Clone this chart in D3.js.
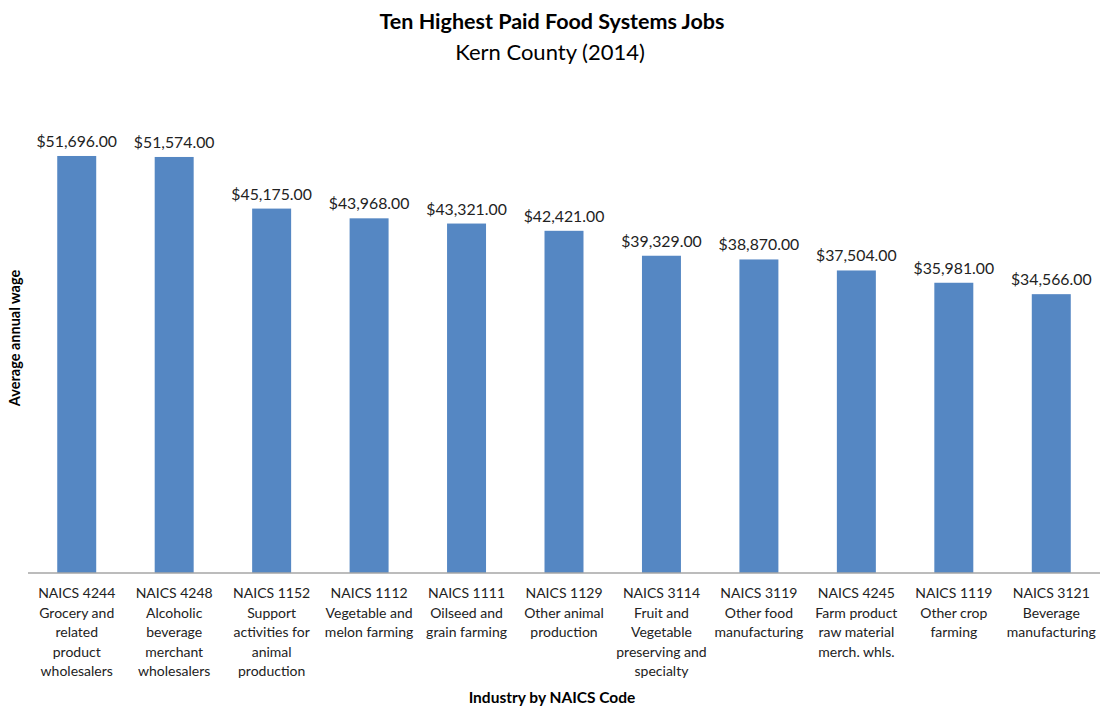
<!DOCTYPE html>
<html><head><meta charset="utf-8">
<script src="https://cdn.jsdelivr.net/npm/d3@7"></script>
<style>body{margin:0;background:#fff;} svg{display:block;font-family:Lato, "Open Sans", sans-serif;}</style>
</head><body>
<svg id="chart" width="1100" height="709"></svg>
<script>
const codes = ["NAICS 4244","NAICS 4248","NAICS 1152","NAICS 1112","NAICS 1111","NAICS 1129","NAICS 3114","NAICS 3119","NAICS 4245","NAICS 1119","NAICS 3121"];
const descriptions = [
  ["Grocery and","related","product","wholesalers"],
  ["Alcoholic","beverage","merchant","wholesalers"],
  ["Support","activities for","animal","production"],
  ["Vegetable and","melon farming"],
  ["Oilseed and","grain farming"],
  ["Other animal","production"],
  ["Fruit and","Vegetable","preserving and","specialty"],
  ["Other food","manufacturing"],
  ["Farm product","raw material","merch. whls."],
  ["Other crop","farming"],
  ["Beverage","manufacturing"]
];
const wages = [51696, 51574, 45175, 43968, 43321, 42421, 39329, 38870, 37504, 35981, 34566];

const svg = d3.select("#chart");
const left = 28, right = 1100, baseY = 573, topY = 89;
const x = d3.scaleBand().domain(codes).range([left, right]).paddingInner(0.6).paddingOuter(0.3);
const y = d3.scaleLinear().domain([0, 60000]).range([baseY, topY]);
const fmt = d3.format("$,.2f");

svg.append("text").attr("x", 552).attr("y", 29).attr("text-anchor","middle")
  .attr("font-size", 21.5).attr("font-weight","bold").attr("fill","#000").text("Ten Highest Paid Food Systems Jobs");
svg.append("text").attr("x", 550).attr("y", 60).attr("text-anchor","middle")
  .attr("font-size", 22).attr("fill","#000").text("Kern County (2014)");

svg.selectAll("rect.bar").data(wages).join("rect").attr("class","bar")
  .attr("x",(d,i)=>x(codes[i])).attr("width",x.bandwidth())
  .attr("y",d=>y(d)).attr("height",d=>baseY-y(d)).attr("fill","#5587c3");

svg.selectAll("text.val").data(wages).join("text").attr("class","val")
  .attr("x",(d,i)=>x(codes[i])+x.bandwidth()/2).attr("y",d=>y(d)-9)
  .attr("text-anchor","middle").attr("font-size",15.8).attr("fill","#222").text(d=>fmt(d));

const xAxis = svg.append("g").attr("transform",`translate(0,${baseY})`)
  .call(d3.axisBottom(x).tickSize(0).tickFormat(""));
xAxis.select(".domain").attr("stroke","#a6a6a6").attr("stroke-width",1.5).attr("d",`M${left},0H${right}`);

const lab = svg.selectAll("text.cat").data(codes).join("text").attr("class","cat")
  .attr("text-anchor","middle").attr("font-size",14).attr("fill","#222")
  .attr("transform",d=>`translate(${x(d)+x.bandwidth()/2},${baseY+25})`);
lab.each(function(d,i){
  const t = d3.select(this);
  [d].concat(descriptions[i]).forEach((line,j)=>{
    t.append("tspan").attr("x",0).attr("y",j*19.5).text(line);
  });
});

svg.append("text").attr("x", 552).attr("y", 703).attr("text-anchor","middle")
  .attr("font-size",15.5).attr("font-weight","bold").attr("fill","#000").text("Industry by NAICS Code");
svg.append("text").attr("transform","translate(20,338) rotate(-90)").attr("text-anchor","middle")
  .attr("font-size",14.5).attr("font-weight","bold").attr("fill","#000").text("Average annual wage");
</script>
</body></html>
